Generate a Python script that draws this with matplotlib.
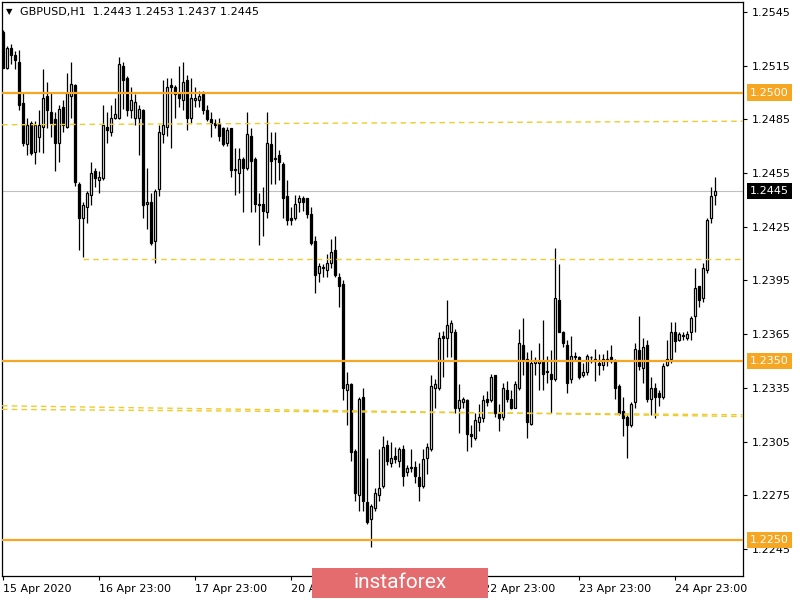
import matplotlib.pyplot as plt
from matplotlib.patches import Rectangle
from matplotlib.transforms import blended_transform_factory

# hourly GBPUSD candles
opens = [1.2534, 1.2514, 1.2525, 1.2521, 1.2517, 1.2494, 1.2471, 1.2483, 1.2467, 1.2475,
         1.2481, 1.2498, 1.2489, 1.2485, 1.2472, 1.2492, 1.2481, 1.2498, 1.2504, 1.2449,
         1.2430, 1.2436, 1.2443, 1.2456, 1.2451, 1.2452, 1.2481, 1.2478, 1.2486, 1.2486,
         1.2515, 1.2508, 1.2490, 1.2486, 1.2486, 1.2490, 1.2438, 1.2439, 1.2417, 1.2446,
         1.2477, 1.2481, 1.2504, 1.2503, 1.2500, 1.2496, 1.2507, 1.2486, 1.2496, 1.2496,
         1.2499, 1.2490, 1.2485, 1.2483, 1.2483, 1.2480, 1.2472, 1.2480, 1.2457, 1.2455,
         1.2463, 1.2458, 1.2476, 1.2463, 1.2438, 1.2438, 1.2433, 1.2471, 1.2463, 1.2465,
         1.2460, 1.2442, 1.2430, 1.2430, 1.2439, 1.2441, 1.2441, 1.2432, 1.2417, 1.2399,
         1.2402, 1.2401, 1.2405, 1.2412, 1.2397, 1.2393, 1.2334, 1.2337, 1.2300, 1.2275,
         1.2330, 1.2271, 1.2262, 1.2268, 1.2275, 1.2280, 1.2303, 1.2293, 1.2297, 1.2294,
         1.2301, 1.2288, 1.2290, 1.2291, 1.2285, 1.2280, 1.2296, 1.2301, 1.2335, 1.2335,
         1.2364, 1.2363, 1.2366, 1.2366, 1.2324, 1.2327, 1.2328, 1.2309, 1.2307, 1.2316,
         1.2318, 1.2329, 1.2328, 1.2342, 1.2321, 1.2319, 1.2334, 1.2329, 1.2324, 1.2335,
         1.2359, 1.2351, 1.2315, 1.2349, 1.2349, 1.2350, 1.2344, 1.2343, 1.2340, 1.2384,
         1.2366, 1.2359, 1.2340, 1.2353, 1.2352, 1.2342, 1.2344, 1.2352, 1.2351, 1.2349,
         1.2348, 1.2350, 1.2352, 1.2350, 1.2336, 1.2322, 1.2319, 1.2314, 1.2327, 1.2356,
         1.2346, 1.2359, 1.2329, 1.2335, 1.2332, 1.2330, 1.2348, 1.2351, 1.2366, 1.2362,
         1.2364, 1.2363, 1.2366, 1.2375, 1.2392, 1.2385, 1.2401, 1.2430, 1.2443]
highs = [1.2535, 1.2526, 1.2527, 1.2523, 1.2524, 1.2500, 1.2486, 1.2484, 1.2484, 1.2490,
         1.2513, 1.2506, 1.2500, 1.2489, 1.2493, 1.2496, 1.2511, 1.2517, 1.2505, 1.2450,
         1.2439, 1.2445, 1.2461, 1.2458, 1.2456, 1.2493, 1.2489, 1.2493, 1.2497, 1.2520,
         1.2517, 1.2509, 1.2503, 1.2499, 1.2493, 1.2491, 1.2458, 1.2444, 1.2446, 1.2482,
         1.2507, 1.2508, 1.2508, 1.2504, 1.2515, 1.2517, 1.2510, 1.2508, 1.2503, 1.2501,
         1.2501, 1.2493, 1.2489, 1.2485, 1.2486, 1.2481, 1.2481, 1.2480, 1.2469, 1.2469,
         1.2464, 1.2489, 1.2480, 1.2464, 1.2444, 1.2447, 1.2489, 1.2478, 1.2478, 1.2468,
         1.2461, 1.2451, 1.2436, 1.2443, 1.2443, 1.2442, 1.2441, 1.2436, 1.2420, 1.2405,
         1.2404, 1.2410, 1.2418, 1.2420, 1.2399, 1.2395, 1.2344, 1.2338, 1.2301, 1.2330,
         1.2335, 1.2296, 1.2270, 1.2279, 1.2301, 1.2308, 1.2306, 1.2305, 1.2302, 1.2302,
         1.2303, 1.2292, 1.2301, 1.2294, 1.2293, 1.2301, 1.2304, 1.2342, 1.2340, 1.2366,
         1.2367, 1.2384, 1.2373, 1.2368, 1.2337, 1.2330, 1.2329, 1.2314, 1.2321, 1.2326,
         1.2331, 1.2333, 1.2343, 1.2342, 1.2326, 1.2338, 1.2339, 1.2334, 1.2339, 1.2368,
         1.2374, 1.2355, 1.2356, 1.2352, 1.2360, 1.2373, 1.2353, 1.2356, 1.2413, 1.2404,
         1.2367, 1.2362, 1.2364, 1.2355, 1.2353, 1.2349, 1.2354, 1.2353, 1.2357, 1.2354,
         1.2354, 1.2356, 1.2359, 1.2351, 1.2337, 1.2330, 1.2320, 1.2327, 1.2360, 1.2375,
         1.2363, 1.2362, 1.2341, 1.2338, 1.2334, 1.2349, 1.2362, 1.2372, 1.2372, 1.2366,
         1.2366, 1.2367, 1.2375, 1.2402, 1.2392, 1.2405, 1.2430, 1.2447, 1.2453]
lows = [1.2514, 1.2513, 1.2516, 1.2513, 1.2490, 1.2470, 1.2465, 1.2465, 1.2460, 1.2467,
        1.2466, 1.2480, 1.2475, 1.2456, 1.2461, 1.2478, 1.2480, 1.2486, 1.2448, 1.2412,
        1.2408, 1.2427, 1.2437, 1.2447, 1.2444, 1.2451, 1.2472, 1.2476, 1.2485, 1.2485,
        1.2491, 1.2487, 1.2486, 1.2482, 1.2465, 1.2430, 1.2424, 1.2415, 1.2405, 1.2442,
        1.2472, 1.2476, 1.2469, 1.2486, 1.2492, 1.2490, 1.2479, 1.2483, 1.2492, 1.2492,
        1.2488, 1.2484, 1.2475, 1.2480, 1.2473, 1.2470, 1.2470, 1.2453, 1.2443, 1.2444,
        1.2433, 1.2457, 1.2433, 1.2433, 1.2415, 1.2420, 1.2430, 1.2449, 1.2449, 1.2451,
        1.2430, 1.2426, 1.2426, 1.2429, 1.2433, 1.2434, 1.2430, 1.2415, 1.2388, 1.2394,
        1.2397, 1.2397, 1.2402, 1.2397, 1.2380, 1.2328, 1.2314, 1.2294, 1.2272, 1.2266,
        1.2266, 1.2259, 1.2246, 1.2266, 1.2272, 1.2279, 1.2292, 1.2291, 1.2293, 1.2291,
        1.2280, 1.2286, 1.2288, 1.2282, 1.2272, 1.2279, 1.2287, 1.2300, 1.2324, 1.2334,
        1.2341, 1.2352, 1.2352, 1.2321, 1.2310, 1.2324, 1.2300, 1.2302, 1.2306, 1.2311,
        1.2316, 1.2325, 1.2327, 1.2319, 1.2311, 1.2317, 1.2327, 1.2323, 1.2324, 1.2334,
        1.2342, 1.2307, 1.2314, 1.2342, 1.2334, 1.2334, 1.2338, 1.2321, 1.2339, 1.2366,
        1.2358, 1.2332, 1.2338, 1.2350, 1.2340, 1.2341, 1.2342, 1.2349, 1.2339, 1.2342,
        1.2345, 1.2347, 1.2349, 1.2329, 1.2320, 1.2308, 1.2296, 1.2313, 1.2324, 1.2345,
        1.2338, 1.2327, 1.2320, 1.2318, 1.2325, 1.2329, 1.2347, 1.2349, 1.2355, 1.2361,
        1.2362, 1.2362, 1.2362, 1.2366, 1.2380, 1.2383, 1.2399, 1.2427, 1.2437]
closes = [1.2514, 1.2525, 1.2521, 1.2518, 1.2493, 1.2472, 1.2482, 1.2466, 1.2482, 1.2482,
          1.2497, 1.2490, 1.2483, 1.2472, 1.2491, 1.2482, 1.2500, 1.2505, 1.2450, 1.2430,
          1.2437, 1.2444, 1.2455, 1.2452, 1.2453, 1.2482, 1.2479, 1.2486, 1.2488, 1.2516,
          1.2507, 1.2490, 1.2496, 1.2495, 1.2491, 1.2437, 1.2439, 1.2416, 1.2445, 1.2478,
          1.2482, 1.2503, 1.2503, 1.2499, 1.2497, 1.2506, 1.2486, 1.2497, 1.2497, 1.2498,
          1.2490, 1.2485, 1.2483, 1.2482, 1.2476, 1.2471, 1.2479, 1.2457, 1.2457, 1.2463,
          1.2458, 1.2477, 1.2462, 1.2438, 1.2437, 1.2434, 1.2472, 1.2462, 1.2463, 1.2461,
          1.2441, 1.2429, 1.2429, 1.2438, 1.2441, 1.2439, 1.2432, 1.2416, 1.2398, 1.2403,
          1.2402, 1.2405, 1.2411, 1.2398, 1.2392, 1.2335, 1.2337, 1.2299, 1.2276, 1.2329,
          1.2272, 1.2260, 1.2269, 1.2276, 1.2279, 1.2302, 1.2294, 1.2296, 1.2295, 1.2301,
          1.2286, 1.2290, 1.2291, 1.2286, 1.2280, 1.2295, 1.2302, 1.2336, 1.2337, 1.2363,
          1.2363, 1.2370, 1.2371, 1.2324, 1.2328, 1.2329, 1.2309, 1.2308, 1.2317, 1.2319,
          1.2328, 1.2327, 1.2341, 1.2321, 1.2318, 1.2335, 1.2329, 1.2324, 1.2337, 1.2360,
          1.2350, 1.2316, 1.2349, 1.2350, 1.2350, 1.2343, 1.2344, 1.2340, 1.2385, 1.2366,
          1.2360, 1.2338, 1.2353, 1.2352, 1.2341, 1.2344, 1.2353, 1.2352, 1.2350, 1.2348,
          1.2351, 1.2351, 1.2350, 1.2335, 1.2321, 1.2318, 1.2314, 1.2326, 1.2357, 1.2347,
          1.2358, 1.2329, 1.2335, 1.2330, 1.2330, 1.2347, 1.2351, 1.2366, 1.2361, 1.2365,
          1.2364, 1.2365, 1.2374, 1.2391, 1.2384, 1.2402, 1.2429, 1.2442, 1.2445]

levels = [1.2500, 1.2350, 1.2250]
last_price = 1.2445
price_ticks = [1.2545, 1.2515, 1.2485, 1.2455, 1.2425, 1.2395, 1.2365,
               1.2335, 1.2305, 1.2275, 1.2245]
date_pos = [0, 24, 48, 72, 96, 120, 144, 168]
date_labels = ['15 Apr 2020', '16 Apr 23:00', '17 Apr 23:00', '20 Apr 23:00',
               '21 Apr 23:00', '22 Apr 23:00', '23 Apr 23:00', '24 Apr 23:00']

# dashed trend lines: (x0, x1), (y0, y1)
trend_x = [(-0.25, 185), (20, 185), (-0.25, 185), (-0.25, 185)]
trend_y = [(1.2482, 1.2484), (1.2407, 1.2407), (1.2325, 1.2319), (1.2323, 1.2320)]

ORANGE = '#F5A623'
DASH = '#EECB2E'

fig = plt.figure(figsize=(8, 6), dpi=100)
ax = fig.add_axes([2 / 800, 24 / 600, 741 / 800, 574 / 600])

n = len(opens)
xs = list(range(n))
w = 0.62

ax.vlines(xs, lows, highs, color='black', linewidth=0.9, zorder=2)
for i in range(n):
    o, c = opens[i], closes[i]
    bottom = min(o, c)
    h = max(abs(c - o), 0.00004)
    if c >= o:
        fc = 'white'
    else:
        fc = 'black'
    ax.add_patch(Rectangle((i - w / 2, bottom), w, h, facecolor=fc,
                           edgecolor='black', linewidth=0.9, zorder=3))

for lv in levels:
    ax.axhline(lv, color=ORANGE, linewidth=1.6, zorder=5)
ax.axhline(last_price, color='#C0C0C0', linewidth=0.8, zorder=1)

for tx, ty in zip(trend_x, trend_y):
    ax.plot(tx, ty, color=DASH, linewidth=1.0, dashes=(4, 3), zorder=4)

ax.set_xlim(-0.25, 185)
ax.set_ylim(1.22299, 1.25506)

ax.yaxis.tick_right()
ax.set_yticks(price_ticks)
ax.set_yticklabels(['%.4f' % v for v in price_ticks])
ax.tick_params(axis='y', direction='out', length=3, pad=3, labelsize=8, width=0.8)
ax.set_xticks(date_pos)
ax.set_xticklabels(date_labels)
ax.tick_params(axis='x', direction='out', length=3, pad=3, labelsize=8, width=0.8)
plt.setp(ax.get_xticklabels(), ha='left')
for sp in ax.spines.values():
    sp.set_linewidth(0.9)

trans = blended_transform_factory(ax.transAxes, ax.transData)
for lv in levels:
    ax.text(1.0 + 7 / 741, lv, '%.4f' % lv, transform=trans, ha='left', va='center',
            fontsize=8, color='white', clip_on=False, zorder=10,
            bbox=dict(boxstyle='square,pad=0.3', fc=ORANGE, ec='none'))
ax.text(1.0 + 7 / 741, last_price, '%.4f' % last_price, transform=trans, ha='left',
        va='center', fontsize=8, color='white', clip_on=False, zorder=10,
        bbox=dict(boxstyle='square,pad=0.3', fc='black', ec='none'))

# header
fig.text(6 / 800, 1 - 12 / 600, '\u25bc', fontsize=6, va='center', ha='left')
fig.text(20 / 800, 1 - 12 / 600, 'GBPUSD,H1  1.2443 1.2453 1.2437 1.2445',
         fontsize=8, va='center', ha='left')

# watermark
fig.add_artist(Rectangle((312 / 800, 2 / 600), 176 / 800, 30 / 600,
                         transform=fig.transFigure, facecolor='#E46B6E',
                         edgecolor='none', zorder=20))
fig.text(400 / 800, 17 / 600, 'instaforex', fontsize=15, color='white',
         ha='center', va='center', family='Roboto', zorder=21)

fig.savefig('out.png', dpi=100)
